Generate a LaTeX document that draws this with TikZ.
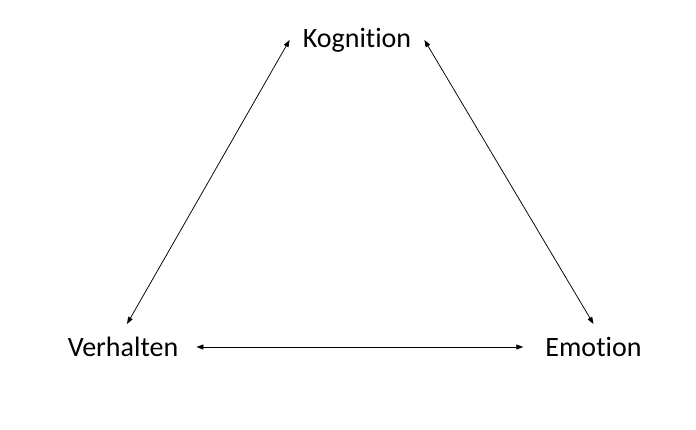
\documentclass[tikz,border=0pt]{standalone}
\usepackage{fontspec}
\setmainfont[Ligatures=CommonOff]{Carlito}
\usetikzlibrary{positioning, calc, arrows.meta}

\tikzset{
	label/.style={font=\fontsize{28}{32}\selectfont, inner sep=2pt},
	link/.style={{Triangle[length=7pt,width=5pt]}-{Triangle[length=7pt,width=5pt]}, line width=0.75pt}
}

\begin{document}
\begin{tikzpicture}[x=1pt, y=1pt]
	\useasboundingbox (0, 0) rectangle (696, 430);
	\node[label] (kog) at (357, 390) {Kognition};
	\node[label] (verh) at (123, 83) {Verhalten};
	\node[label] (emo) at (593.5, 83) {Emotion};
	\draw[link] ([xshift=-11pt]kog.west) -- ([shift={(4pt,23pt)}]verh.center);
	\draw[link] ([xshift=11pt]kog.east) -- ([shift={(0pt,23pt)}]emo.center);
	\draw[link] ([xshift=16pt]verh.east) -- ([xshift=-20pt]emo.west);
\end{tikzpicture}
\end{document}
